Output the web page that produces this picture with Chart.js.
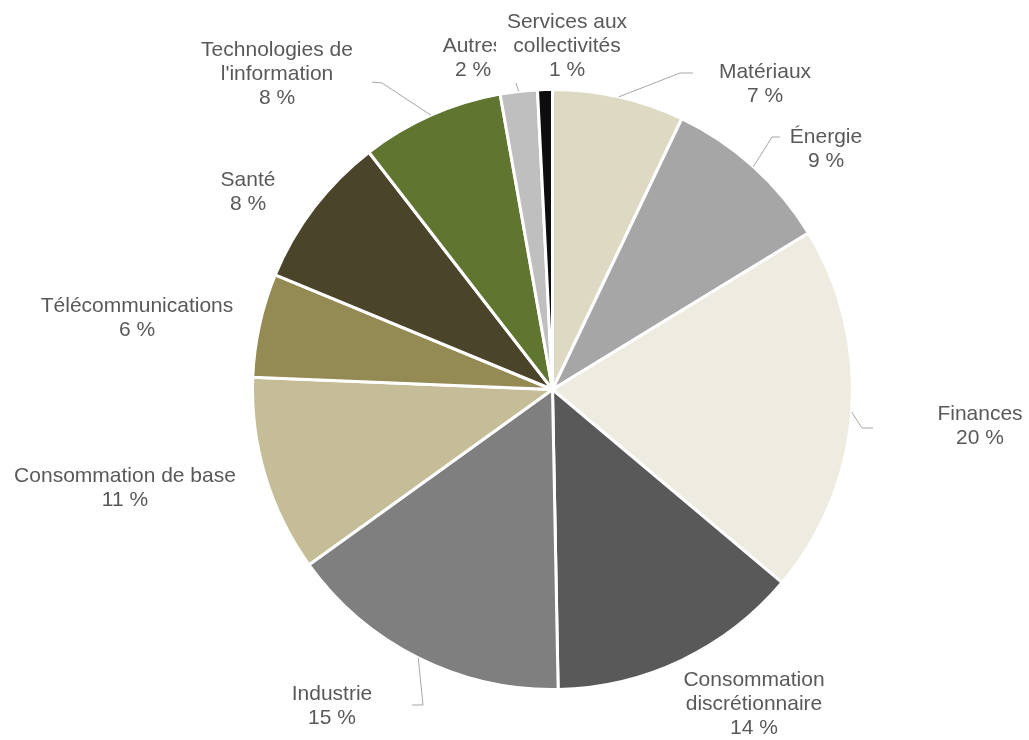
<!DOCTYPE html>
<html lang="fr">
<head>
<meta charset="utf-8">
<title>Répartition sectorielle</title>
<script src="https://cdn.jsdelivr.net/npm/chart.js@4/dist/chart.umd.min.js"></script>
<style>
  html, body { margin: 0; padding: 0; background: #fff; }
  canvas { display: block; }
</style>
</head>
<body>
<canvas id="pie" width="1029" height="740"></canvas>
<script>
// sectors, clockwise from 12 o'clock
const sectors = ['Matériaux', 'Énergie', 'Finances', 'Consommation discrétionnaire', 'Industrie',
  'Consommation de base', 'Télécommunications', 'Santé', "Technologies de l'information",
  'Autres', 'Services aux collectivités'];
const weights = [7.1, 9.2, 19.9, 13.6, 15.4, 10.6, 5.6, 8.3, 7.7, 2.0, 0.8];

// how each name is broken over lines in its label
const wrapped = [['Matériaux'], ['Énergie'], ['Finances'], ['Consommation', 'discrétionnaire'], ['Industrie'],
  ['Consommation de base'], ['Télécommunications'], ['Santé'], ['Technologies de', "l'information"],
  ['Autres'], ['Services aux', 'collectivités']];

const sliceColors = ['#ddd9c3', '#a6a6a6', '#eeece1', '#595959', '#7f7f7f',
  '#c4bd97', '#948a54', '#4a452a', '#5f7530', '#bfbfbf', '#0d0d0d'];

// label placement: centre x, first line y, leader bends (from the slice edge), box half-width
const labelLayout = [
  { x: 765, y: 72,  leader: [[680, 73], [693, 73]] },
  { x: 826, y: 137, leader: [[772, 137], [780, 137]] },
  { x: 980, y: 414, leader: [[862, 428], [873, 428]] },
  { x: 754, y: 680 },
  { x: 332, y: 694, leader: [[423, 705], [412, 705]] },
  { x: 125, y: 476 },
  { x: 137, y: 306 },
  { x: 248, y: 180 },
  { x: 277, y: 50,  leader: [[382, 83], [372, 82]] },
  { x: 473, y: 46,  leader: [[516, 83]] },
  { x: 567, y: 22,  box: 71 }
];

const LINE_H = 24;
const FONT = '21px "Liberation Sans", Arial, sans-serif';

const sliceLabels = {
  id: 'sliceLabels',
  afterDatasetsDraw(chart) {
    const ctx = chart.ctx;
    const arcs = chart.getDatasetMeta(0).data;
    ctx.save();
    ctx.font = FONT;
    ctx.textAlign = 'center';
    ctx.textBaseline = 'middle';
    arcs.forEach((arc, i) => {
      const lay = labelLayout[i];
      const lines = wrapped[i].concat([Math.round(weights[i]) + ' %']);

      if (lay.leader) {
        const mid = (arc.startAngle + arc.endAngle) / 2;
        ctx.beginPath();
        ctx.moveTo(arc.x + Math.cos(mid) * arc.outerRadius, arc.y + Math.sin(mid) * arc.outerRadius);
        lay.leader.forEach(p => ctx.lineTo(p[0], p[1]));
        ctx.strokeStyle = '#a6a6a6';
        ctx.lineWidth = 1;
        ctx.stroke();
      }

      if (lay.box) {
        ctx.fillStyle = '#fff';
        ctx.fillRect(lay.x - lay.box, lay.y - LINE_H / 2, lay.box * 2, LINE_H * lines.length);
      }

      ctx.fillStyle = '#595959';
      lines.forEach((t, k) => ctx.fillText(t, lay.x, lay.y + k * LINE_H));
    });
    ctx.restore();
  }
};

new Chart(document.getElementById('pie'), {
  type: 'pie',
  data: {
    labels: sectors,
    datasets: [{
      data: weights,
      backgroundColor: sliceColors,
      borderColor: '#ffffff',
      borderWidth: 3
    }]
  },
  options: {
    responsive: false,
    animation: false,
    layout: { padding: { top: 88, bottom: 49, left: 251, right: 175 } },
    plugins: {
      legend: { display: false },
      tooltip: { enabled: false }
    }
  },
  plugins: [sliceLabels]
});
</script>
</body>
</html>
